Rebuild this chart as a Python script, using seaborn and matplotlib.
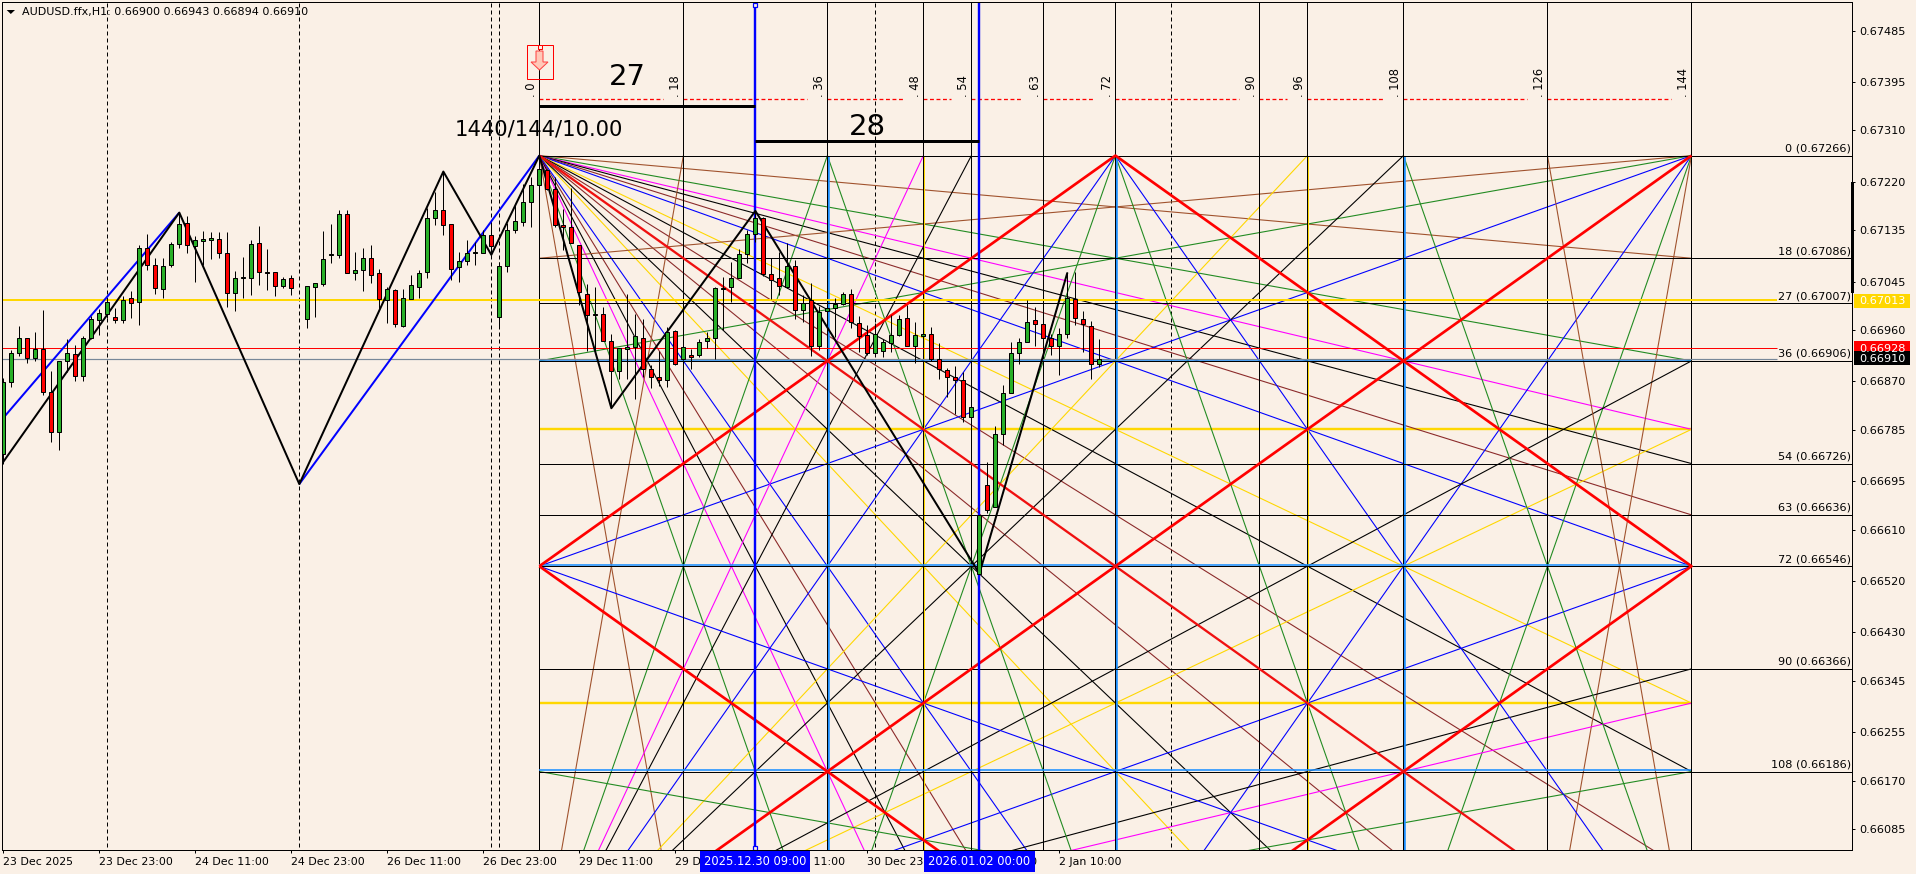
import numpy as np
import pandas as pd
import matplotlib
matplotlib.use("Agg")
import matplotlib.pyplot as plt
import seaborn as sns
from matplotlib.patches import Rectangle, Polygon
from matplotlib.transforms import Affine2D, blended_transform_factory
from matplotlib.ticker import FixedLocator, FuncFormatter

BG = "#FAF0E6"
sns.set_style("white", {"axes.facecolor": BG, "figure.facecolor": BG, "axes.edgecolor": "black"})
plt.rcParams["font.family"] = ["DejaVu Sans"]

# ---------- candles (prices in 1e-5 units) ----------
bar_index = list(range(-67, -30)) + list(range(-29, 71))
opens = [66743,66869,66919,66947,66911,66926,66852,66782,66905,66918,
         66880,66946,66978,66989,66983,66977,67016,67009,67104,67074,
         67032,67074,67111,67147,67107,67116,67118,67119,67095,67025,
         67051,67051,67112,67061,67061,67037,67051,
         66979,67036,67041,67092,67091,67163,67060,67065,67086,67060,
         67012,67030,66968,67015,67036,67061,67156,67170,67146,67070,
         67081,67096,67096,67126,66983,67072,67135,67149,67184,67214,
         67240,67207,67145,67141,67110,67024,66989,66989,66941,66888,
         66926,66930,66947,66891,66877,66873,66958,66910,66917,66917,
         66941,66947,67032,67035,67052,67094,67128,67156,67058,67051,
         67035,67072,66996,67012,66933,66993,66998,67005,67023,66973,
         66951,66919,66923,66938,66951,66982,66933,66949,66953,66909,
         66890,66877,66873,66807,66532,66688,66650,66777,66849,66919,
         66940,66977,66970,66947,66933,66953,67014,66979,66968,66900]
highs = [66876,66925,66967,66947,66957,66995,66888,66906,66944,66934,
         66949,66984,66997,67016,66998,67019,67028,67109,67129,67086,
         67086,67115,67165,67160,67125,67134,67132,67132,67132,67064,
         67089,67118,67143,67102,67061,67053,67057,
         67037,67043,67133,67146,67171,67171,67097,67104,67109,67067,
         67036,67032,67032,67057,67066,67174,67202,67238,67146,67097,
         67118,67115,67136,67147,67080,67147,67179,67216,67229,67265,
         67242,67229,67172,67210,67110,67040,67036,67001,66953,66928,
         67024,66989,66980,66899,66924,66966,66960,66931,66926,66944,
         66957,67036,67053,67080,67103,67135,67170,67158,67086,67097,
         67113,67083,67021,67043,67002,67002,67016,67027,67032,66985,
         66969,66972,66944,66986,66986,67004,66975,66953,66965,66937,
         66894,66897,66887,66825,66635,66728,66792,66864,66940,66947,
         67013,67000,66970,66954,66963,67061,67062,66993,66976,66944]
lows = [66726,66861,66915,66902,66905,66847,66763,66749,66887,66870,
        66870,66944,66952,66981,66973,66973,66981,66969,67066,67023,
        67017,67071,67104,67096,67045,67074,67085,67086,67001,66994,
        67017,67022,67039,67030,67019,67033,67021,
        66963,66983,67037,67078,67087,67060,67047,67028,67043,66995,
        66973,66965,66965,67015,67017,67051,67144,67127,67047,67045,
        67075,67075,67096,67092,66963,67061,67130,67143,67141,67213,
        67205,67141,67100,67112,67004,66924,66924,66941,66823,66875,
        66875,66840,66878,66858,66862,66861,66899,66907,66891,66913,
        66928,66910,66961,67010,67051,67078,67115,67055,67014,67021,
        67033,66979,66975,66915,66925,66993,66948,67004,66964,66922,
        66916,66916,66913,66922,66949,66932,66902,66949,66905,66874,
        66842,66813,66798,66807,66532,66639,66650,66758,66849,66901,
        66940,66933,66928,66916,66881,66947,66969,66921,66874,66895]
closes = [66869,66919,66947,66911,66926,66851,66782,66906,66919,66880,
          66946,66979,66990,67009,66978,67012,67007,67104,67074,67033,
          67072,67111,67146,67109,67118,67119,67121,67096,67025,67051,
          67053,67111,67061,67060,67037,67049,67033,
          67037,67042,67084,67093,67163,67060,67065,67086,67056,67015,
          67032,66970,67016,67039,67060,67156,67170,67144,67068,67081,
          67096,67097,67126,67107,67072,67135,67151,67184,67214,67242,
          67207,67145,67140,67112,67026,66986,66987,66941,66888,66928,
          66930,66949,66891,66877,66873,66957,66900,66930,66912,66940,
          66947,67033,67034,67051,67093,67129,67156,67058,67047,67037,
          67072,66996,67008,66933,66992,66998,67005,67023,66975,66949,
          66919,66954,66940,66951,66980,66933,66951,66953,66909,66891,
          66877,66873,66807,66825,66635,66644,66777,66849,66919,66940,
          66975,66970,66947,66933,66953,67016,66981,66970,66900,66910]

# ---------- zigzags ----------
zig_index = [-67, -45, -30, -12, -6, 0, 9, 27, 55, 66]
zig_price = [66729, 67166, 66690, 67238, 67092, 67266, 66823, 67169, 66533, 67061]
blue_a_index, blue_a_price = [-67, -45], [66806, 67166]
blue_b_index, blue_b_price = [-30, 0], [66690, 67266]

# ---------- gann box ----------
TOP = 0.67266
STEP = 0.0001
SIDE = 144
SIENNA, GREEN, MAG, MAROON, BLUE, GOLD, DODGER = "#A0522D", "#228B22", "#FF00FF", "#8B2A2A", "#0000FF", "#FFD700", "#1E90FF"
tl_fan = [(18, SIENNA), (36, GREEN), (48, MAG), (54, "black"), (63, MAROON), (72, BLUE), (96, GOLD), (108, "black"), (126, MAROON)]
tr_side = [(18, SIENNA), (36, GREEN), (72, BLUE)]
tr_bottom = [(72, BLUE), (108, GREEN), (126, SIENNA)]
bl_side = [(36, "black"), (48, GOLD), (72, BLUE), (90, "black"), (96, MAG), (108, GREEN)]
bl_top = [(18, SIENNA), (36, GREEN), (48, MAG), (54, "black"), (72, BLUE), (96, GOLD), (108, "black")]
br_side = [(72, BLUE), (108, GREEN)]
br_top = [(72, BLUE), (108, GREEN), (126, SIENNA)]
green_extra = [(36, 72), (72, 36), (72, 108)]  # top bar -> bottom bar
time_marks = [0, 18, 36, 48, 54, 63, 72, 90, 96, 108, 126, 144]
level_names = [0, 18, 27, 36, 54, 63, 72, 90, 108]
level_prices = [0.67266, 0.67086, 0.67007, 0.66906, 0.66726, 0.66636, 0.66546, 0.66366, 0.66186]
blue_levels = [36, 72, 108]
gold_levels = [48, 96]
dashed_bars = [-54, -30, -6, -5, 42, 79]
thick_bars = [27, 55]

# ---------- axes labels ----------
ytick_values = [0.67485,0.67395,0.67310,0.67220,0.67135,0.67045,0.66960,0.66870,0.66785,0.66695,0.66610,0.66520,0.66430,0.66345,0.66255,0.66170,0.66085]
xtick_bars = [-67,-55,-43,-31,-19,-7,5,17,29,41,53,65]
xtick_labels = ["23 Dec 2025","23 Dec 23:00","24 Dec 11:00","24 Dec 23:00","26 Dec 11:00","26 Dec 23:00",
                "29 Dec 11:00","29 Dec 23:00","30 Dec 11:00","30 Dec 23:00","31 Dec 11:00","2 Jan 10:00"]
hlines_full = [(0.67013, GOLD, 2.0), (0.66928, "#FF0000", 1.0), (0.66910, "#778899", 1.2)]

W, H = 1916, 874
PX = 0.72
fig = plt.figure(figsize=(W/100, H/100), dpi=100, facecolor=BG)
ax = fig.add_axes([2/W, (H-850)/H, 1850/W, 848/H], facecolor=BG)
px = Affine2D().scale(1, -1).translate(0, H)   # pixel coordinates, origin top-left


def line(xs, ys, color, lw=1.1, z=2, ls="-"):
    art = sns.lineplot(x=xs, y=ys, color=color, linewidth=lw*PX, estimator=None, sort=False,
                       errorbar=None, legend=False, ax=ax, zorder=z, linestyle=ls)
    l = art.get_lines()[-1]
    l.set_solid_capstyle("butt")
    return l


def lvl(n):
    return TOP - n*STEP

bottom = lvl(SIDE)
# levels and time lines
for n in dashed_bars:
    line([n, n], [0.6500, 0.6800], "black", 1.0, ls=(0, (4, 3)))
for n in time_marks:
    line([n, n], [0.6500, 0.6800], "black", 1.0, z=2.2)
for n in (36, 72, 108):
    line([n+0.12, n+0.12], [bottom, TOP], DODGER, 2.6, z=2.1)
for n in (48, 96):
    line([n+0.12, n+0.12], [bottom, TOP], GOLD, 2.0, z=2.1)
for p in level_prices:
    line([0, 164.2], [p, p], "black", 1.0, z=3)
for n in blue_levels:
    line([0, SIDE], [lvl(n)+0.00002, lvl(n)+0.00002], DODGER, 1.6, z=2.5)
for n in gold_levels:
    line([0, SIDE], [lvl(n), lvl(n)], GOLD, 2.4)
for p, c, w in hlines_full:
    line([-67.2, 154.7], [p, p], c, w, z=3)

# fans from the four corners
for n, c in tl_fan:
    line([0, SIDE], [TOP, lvl(n)], c)
    line([0, n], [TOP, bottom], c)
for n, c in tr_side:
    line([SIDE, 0], [TOP, lvl(n)], c)
for n, c in tr_bottom:
    line([SIDE, n], [TOP, bottom], c)
for n, c in bl_side:
    line([0, SIDE], [bottom, lvl(n)], c)
for n, c in bl_top:
    line([0, n], [bottom, TOP], c)
for n, c in br_side:
    line([SIDE, 0], [bottom, lvl(n)], c)
for n, c in br_top:
    line([SIDE, n], [bottom, TOP], c)
for a, b in green_extra:
    line([a, b], [TOP, bottom], GREEN)

# red diamond and diagonals
line([0, 72, 144, 72, 0], [lvl(72), TOP, lvl(72), bottom, lvl(72)], "#FF0000", 2.7, z=3)
line([0, 144], [bottom, TOP], "#FF0000", 2.7, z=3)
line([0, 144], [TOP, bottom], "#F01010", 2.3, z=3)

# thick blue bars
for n in thick_bars:
    line([n, n], [0.6500, 0.6800], BLUE, 2.4, z=3.5)

# zigzags
line(blue_a_index, np.array(blue_a_price)/1e5, BLUE, 2.0, z=4)
line(blue_b_index, np.array(blue_b_price)/1e5, BLUE, 2.0, z=4)
line(zig_index, np.array(zig_price)/1e5, "black", 2.0, z=4)

# candles
o, h, l_, c_ = [np.array(v)/1e5 for v in (opens, highs, lows, closes)]
idx = np.array(bar_index)
ax.vlines(idx, l_, h, color="black", lw=PX, zorder=5)
cols = np.where(c_ >= o, "#28B028", "#FF0000")
ax.bar(idx, np.abs(c_-o), bottom=np.minimum(o, c_), width=0.5, color=cols, edgecolor="black", linewidth=PX, zorder=6)

# markers and labels above the box
RED_PRICE = 0.67366
for a, b in zip(time_marks[:-1], time_marks[1:]):
    line([a, b-2.6], [RED_PRICE, RED_PRICE], "#FF0000", 1.3, ls=(0, (3, 2)))
for n in time_marks:
    ax.annotate(f". {n}", xy=(n, RED_PRICE), xytext=(-1.5, 2), textcoords="offset pixels", rotation=90,
                ha="right", va="bottom", fontsize=8.3, color="black", zorder=7)
line([0, 27], [0.67353, 0.67353], "black", 3.0, z=4)
line([27, 55], [0.67292, 0.67292], "black", 3.0, z=4)
ax.text(11, 0.67404, "27", fontsize=21, ha="center", va="center", color="black")
ax.text(41, 0.67316, "28", fontsize=21, ha="center", va="center", color="black")
ax.text(0, 0.67311, "1440/144/10.00", fontsize=15.1, ha="center", va="center", color="black", zorder=7)

# level labels
bl = blended_transform_factory(ax.transAxes, ax.transData)
for n, p in zip(level_names, level_prices):
    ax.annotate(f"{n} ({p:.5f})", xy=(0.9995, p), xycoords=bl, xytext=(0, 2), textcoords="offset pixels",
                ha="right", va="bottom", fontsize=8.1, color="black", zorder=7)

# axes
ax.set_xlim(-67.16, 164.06)
ax.set_ylim(0.660484, 0.675353)
for s in ax.spines.values():
    s.set_linewidth(PX)
    s.set_color("black")
    s.set_zorder(8)
ax.yaxis.tick_right()
ax.yaxis.set_major_locator(FixedLocator(ytick_values))
ax.yaxis.set_major_formatter(FuncFormatter(lambda v, _: f"{v:.5f}"))
ax.tick_params(axis="y", length=2.2, width=PX, pad=3, labelsize=8.1, labelcolor="black", color="black", right=True, left=False)
ax.set_xticks(xtick_bars)
ax.set_xticklabels(xtick_labels, ha="left")
ax.tick_params(axis="x", length=2.2, width=PX, pad=3, labelsize=7.9, labelcolor="black", color="black", bottom=True)
ax.grid(False)
ax.set_xlabel("")
ax.set_ylabel("")

# top-left title
fig.text(21.5, 12.5, "AUDUSD.ffx,H1: 0.66900 0.66943 0.66894 0.66910", transform=px, fontsize=8.0, va="center", ha="left", color="black", zorder=20)
ax.add_patch(Polygon([(6.7, 10), (15, 10), (10.8, 14)], closed=True, transform=px, fc="black", ec="black", lw=0, clip_on=False, zorder=9))

# red arrow box
ax.add_patch(Rectangle((526.5, 45), 26, 34, transform=px, fill=False, ec="#FF0000", lw=PX, zorder=7, clip_on=False))
ax.add_patch(Rectangle((537.5, 44.5), 4, 4, transform=px, fc=BG, ec="#FF0000", lw=PX, zorder=7, clip_on=False))
ax.add_patch(Polygon([(536, 51), (543, 51), (543, 62), (548, 62), (539.5, 70), (531, 62), (536, 62)], closed=True,
                     transform=px, fc="#FFC8B8", ec="#FF4040", lw=1.0*PX, zorder=7, clip_on=False))
# blue handles
for y in (5, 848):
    ax.add_patch(Rectangle((753, y-2), 4, 4, transform=px, fc=BG, ec=BLUE, lw=1.2*PX, zorder=8, clip_on=False))

# scale marker at right
ax.add_patch(Rectangle((1850.5, 181.5), 3, 111.5, transform=px, fc="black", ec="none", zorder=9, clip_on=False))

# price tags
for y0, y1, fc, txt in [(294, 308, GOLD, "0.67013"), (341, 355, "#FF0000", "0.66928"), (351, 365, "black", "0.66910")]:
    ax.add_patch(Rectangle((1854, y0), 56, y1-y0, transform=px, fc=fc, ec="none", zorder=10, clip_on=False))
    ax.text(1859, (y0+y1)/2+0.5, txt, transform=px, fontsize=8.1, color="white", va="center", ha="left", zorder=11)
# time tags
for x0, x1, txt in [(700, 810, "2025.12.30 09:00"), (924, 1035, "2026.01.02 00:00")]:
    ax.add_patch(Rectangle((x0, 851), x1-x0, 21, transform=px, fc="#0000FF", ec="none", zorder=10, clip_on=False))
    ax.text((x0+x1)/2, 861.5, txt, transform=px, fontsize=8.3, color="white", va="center", ha="center", zorder=11)

fig.savefig("out.png", dpi=100, facecolor=BG)
